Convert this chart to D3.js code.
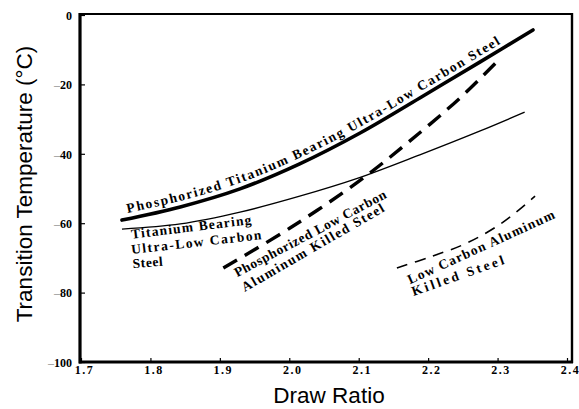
<!DOCTYPE html>
<html>
<head>
<meta charset="utf-8">
<script src="https://cdn.jsdelivr.net/npm/d3@7"></script>
<style>
  body { margin: 0; background: #fff; }
  svg { display: block; }
</style>
</head>
<body>
<div id="chart"></div>
<script>
// curves: [draw ratio, transition temperature]
const phosTiULC = [[1.759, -59.1], [1.843, -55.3], [1.929, -50.1], [2.015, -42.9], [2.102, -34.0], [2.188, -23.9], [2.275, -13.5], [2.351, -4.3]];
const tiULC = [[1.759, -61.7], [1.843, -60.2], [1.929, -56.8], [2.015, -52.2], [2.099, -47.0], [2.188, -40.3], [2.275, -33.4], [2.339, -28.0]];
const phosLCAK = [[1.905, -72.9], [2.001, -61.4], [2.099, -48.1], [2.170, -36.9], [2.246, -23.9], [2.299, -13.5]];
const lcAK = [[2.155, -72.9], [2.203, -69.7], [2.256, -65.7], [2.308, -59.7], [2.354, -52.2]];

const xTicks = [1.7, 1.8, 1.9, 2.0, 2.1, 2.2, 2.3, 2.4];
const yTicks = [0, -20, -40, -60, -80, -100];

// rotated curve labels: text, x, y (data coords of baseline start), angle, length
const labels = [
  ["Titanium Bearing", 1.773, -64.5, -7, 121],
  ["Ultra-Low Carbon", 1.773, -68.9, -6.5, 131],
  ["Steel", 1.775, -73.0, -5, 30],
  ["Phosphorized Low Carbon", 1.925, -75.6, -28, 170],
  ["Aluminum Killed Steel", 1.936, -79.8, -30, 162],
  ["Low Carbon Aluminum", 2.174, -77.6, -24.5, 160],
  ["Killed Steel", 2.179, -81.0, -19.5, 97]
];

const width = 579, height = 409;
const x = d3.scaleLinear().domain([1.7, 2.4]).range([81, 567]);
const y = d3.scaleLinear().domain([0, -100]).range([15, 362]);

const svg = d3.select("#chart").append("svg")
  .attr("width", width)
  .attr("height", height);

const serif = "'Liberation Serif', 'Times New Roman', serif";
const sans = "'Liberation Sans', Arial, sans-serif";

// x axis
const xAxis = svg.append("g")
  .attr("transform", `translate(0,${y(-100)})`)
  .call(d3.axisBottom(x).tickValues(xTicks).tickSizeInner(-4).tickSizeOuter(0).tickFormat(d3.format(".1f")));
xAxis.select(".domain").remove();
xAxis.selectAll("line").attr("stroke", "#000").attr("stroke-width", 1.2);
xAxis.selectAll("text")
  .attr("y", 3)
  .attr("dy", "0.71em")
  .attr("dx", 3)
  .style("font", `bold 12px ${serif}`)
  .style("letter-spacing", "1.5px")
  .attr("fill", "#000");

// y axis
const yAxis = svg.append("g")
  .attr("transform", `translate(${x(1.7)},0)`)
  .call(d3.axisLeft(y).tickValues(yTicks).tickSizeInner(-4).tickSizeOuter(0).tickFormat(() => ""));
yAxis.select(".domain").remove();
yAxis.selectAll("line").attr("stroke", "#000").attr("stroke-width", 1.2);
yAxis.selectAll(".tick text").each(function (d) {
  const t = d3.select(this)
    .attr("x", -9)
    .attr("dy", "0.35em")
    .attr("fill", "#000")
    .style("font", `bold 12px ${serif}`);
  if (d < 0) {
    t.append("tspan").attr("fill", "#888").style("font-weight", "normal").text("\u2013");
  }
  t.append("tspan").text(Math.abs(d));
});

// frame
svg.append("line").attr("x1", 80).attr("x2", 80).attr("y1", 13).attr("y2", 363.5)
  .attr("stroke", "#000").attr("stroke-width", 3.2);
svg.append("line").attr("x1", 79).attr("x2", 573).attr("y1", y(-100)).attr("y2", y(-100))
  .attr("stroke", "#000").attr("stroke-width", 3);
svg.append("line").attr("x1", 79).attr("x2", 573).attr("y1", 14).attr("y2", 14)
  .attr("stroke", "#000").attr("stroke-width", 2.2);
svg.append("line").attr("x1", 572).attr("x2", 572).attr("y1", 13).attr("y2", 363)
  .attr("stroke", "#000").attr("stroke-width", 2.4);

const line = d3.line()
  .x(d => x(d[0]))
  .y(d => y(d[1]))
  .curve(d3.curveCatmullRom);

svg.append("path").datum(phosTiULC)
  .attr("d", line).attr("fill", "none").attr("stroke", "#000")
  .attr("stroke-width", 3.6).attr("stroke-linecap", "round");

svg.append("path").datum(tiULC)
  .attr("d", line).attr("fill", "none").attr("stroke", "#000")
  .attr("stroke-width", 1.4);

svg.append("path").datum(phosLCAK)
  .attr("d", line).attr("fill", "none").attr("stroke", "#000")
  .attr("stroke-width", 3.4).attr("stroke-dasharray", "16,9");

svg.append("path").datum(lcAK)
  .attr("d", line).attr("fill", "none").attr("stroke", "#000")
  .attr("stroke-width", 1.6).attr("stroke-dasharray", "11,8");

// label along the thick curve
const offsetLine = d3.line()
  .x(d => x(d[0]))
  .y(d => y(d[1]) - 6)
  .curve(d3.curveCatmullRom);
svg.append("path").attr("id", "labelPath").datum(phosTiULC)
  .attr("d", offsetLine).attr("fill", "none").attr("stroke", "none");

const mainLabel = "Phosphorized Titanium Bearing Ultra-Low Carbon Steel";
const labelFont = `bold 13.5px ${serif}`;
const probe = svg.append("text").style("font", labelFont).text(mainLabel);
const natural = probe.node().getComputedTextLength();
probe.remove();
const spacing = (412 - natural) / (mainLabel.length - 1);

svg.append("text")
  .style("font", labelFont)
  .style("letter-spacing", `${spacing}px`)
  .append("textPath")
  .attr("href", "#labelPath")
  .attr("startOffset", 6)
  .text(mainLabel);

svg.append("g").selectAll("text")
  .data(labels)
  .join("text")
  .attr("transform", d => `translate(${x(d[1])},${y(d[2])}) rotate(${d[3]})`)
  .attr("textLength", d => d[4])
  .attr("lengthAdjust", "spacing")
  .style("font", labelFont)
  .text(d => d[0]);

// axis titles
svg.append("text")
  .attr("x", (x(1.7) + x(2.4)) / 2 + 5)
  .attr("y", 403)
  .attr("text-anchor", "middle")
  .style("font", `22.5px ${sans}`)
  .text("Draw Ratio");

svg.append("text")
  .attr("transform", `translate(32,184) rotate(-90)`)
  .attr("text-anchor", "middle")
  .style("font", `22.5px ${sans}`)
  .text("Transition Temperature (\u00b0C)");
</script>
</body>
</html>
